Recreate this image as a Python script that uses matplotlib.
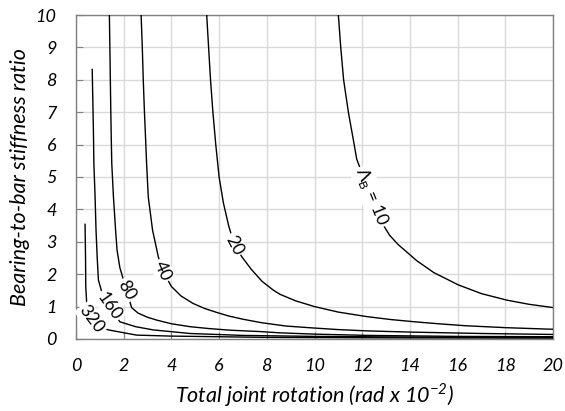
import matplotlib
matplotlib.use('Agg')
from matplotlib import pyplot as plt

# contour lines: x = total joint rotation, y = stiffness ratio
x10 = [11.0, 11.10, 11.22, 11.42, 11.63, 11.77, 11.95, 12.17, 12.4, 12.63, 12.9, 13.15, 13.5, 14.28, 15.0, 16.03, 17.0, 18.06, 19.0, 20.0]
y10 = [10.0, 9.0, 8.0, 7.0, 6.14, 5.55, 5.2, 4.85, 4.42, 3.97, 3.5, 3.2, 2.92, 2.42, 2.05, 1.67, 1.40, 1.20, 1.07, 0.97]

x20 = [5.48, 5.56, 5.64, 5.74, 5.86, 6.0, 6.18, 6.4, 6.62, 6.95, 7.35, 7.8, 8.27, 8.55, 9.2, 10.0, 11.0, 12.2, 13.2, 14.21, 15.2, 16.31, 18.0, 20.0]
y20 = [10.0, 9.0, 8.0, 7.0, 6.0, 5.0, 4.2, 3.5, 2.95, 2.54, 2.15, 1.78, 1.51, 1.38, 1.18, 1.0, 0.83, 0.69, 0.60, 0.53, 0.47, 0.41, 0.35, 0.30]

x40 = [2.73, 2.78, 2.82, 2.87, 2.92, 2.96, 3.03, 3.21, 3.45, 3.63, 4.0, 4.4, 4.9, 5.4, 5.9, 6.4, 7.0, 7.8, 8.8, 9.95, 11.0, 12.2, 14.2, 17.0, 20.0]
y40 = [10.0, 9.0, 8.0, 7.0, 6.14, 5.42, 4.39, 3.36, 2.54, 2.11, 1.62, 1.33, 1.10, 0.94, 0.82, 0.71, 0.61, 0.50, 0.40, 0.34, 0.29, 0.25, 0.21, 0.17, 0.14]

x80 = [1.40, 1.42, 1.44, 1.46, 1.48, 1.50, 1.57, 1.66, 1.72, 1.84, 2.15, 2.33, 2.6, 3.0, 3.4, 4.0, 4.78, 5.6, 6.5, 7.7, 8.55, 10.0, 12.3, 16.0, 20.0]
y80 = [10.0, 9.0, 8.0, 7.0, 6.14, 5.42, 4.39, 3.36, 2.75, 2.2, 1.43, 0.97, 0.80, 0.67, 0.58, 0.47, 0.38, 0.32, 0.27, 0.23, 0.19, 0.15, 0.11, 0.08, 0.07]

x160 = [0.68, 0.73, 0.75, 0.80, 0.84, 0.89, 0.94, 1.10, 1.40, 1.84, 2.5, 3.24, 4.78, 7.0, 10.0, 14.0, 20.0]
y160 = [8.32, 6.45, 5.42, 4.39, 3.36, 2.5, 1.82, 1.40, 1.02, 0.53, 0.38, 0.28, 0.17, 0.11, 0.08, 0.06, 0.045]

x320 = [0.38, 0.40, 0.41, 0.45, 0.66, 1.0, 1.36, 2.54, 3.94, 8.0, 14.0, 20.0]
y320 = [3.54, 2.5, 1.6, 1.1, 0.61, 0.38, 0.28, 0.12, 0.09, 0.05, 0.035, 0.03]

# contour labels: text, x, y, rotation
lab_text = [r'Λ$_\mathregular{B}$ = 10', '20', '40', '80', '160', '320']
lab_x = [12.40, 6.62, 3.63, 2.10, 1.40, 0.66]
lab_y = [4.39, 2.90, 2.11, 1.50, 1.02, 0.61]
lab_rot = [-68, -62, -65, -60, -55, -53]

xticks = list(range(0, 21, 2))
yticks = list(range(0, 11))

fam = ['Lato', 'DejaVu Sans']
fig = plt.figure(figsize=(5.65, 4.11), dpi=100)
ax = fig.add_axes([0.1345, 0.1752, 0.8443, 0.7883])

for xs, ys in [(x10, y10), (x20, y20), (x40, y40), (x80, y80), (x160, y160), (x320, y320)]:
    ax.plot(xs, ys, color='black', lw=1.0, zorder=3)

for t, lx, ly, r in zip(lab_text, lab_x, lab_y, lab_rot):
    ax.text(lx, ly, t, rotation=r, rotation_mode='anchor', ha='center', va='center',
            fontsize=12.5, family=fam, zorder=4,
            bbox=dict(facecolor='white', edgecolor='none', pad=1.2))

ax.set_xlim(0, 20)
ax.set_ylim(0, 10)
ax.set_xticks(xticks)
ax.set_yticks(yticks)
ax.grid(True, color='#d9d9d9', lw=1.0, zorder=0)
ax.set_axisbelow(True)
for s in ax.spines.values():
    s.set_color('#808080')
    s.set_linewidth(1.0)
ax.tick_params(direction='in', length=5, color='#808080', pad=14)
for lbl in ax.get_xticklabels() + ax.get_yticklabels():
    lbl.set_fontstyle('italic')
    lbl.set_family(fam)
    lbl.set_fontsize(13)

ax.set_xlabel(r'Total joint rotation (rad x 10$^\mathregular{-2}$)', fontsize=15.5,
              style='italic', family=fam, labelpad=5)
ax.set_ylabel('Bearing-to-bar stiffness ratio', fontsize=15.5, style='italic', family=fam,
              labelpad=4)

fig.savefig('out.png', dpi=100)
